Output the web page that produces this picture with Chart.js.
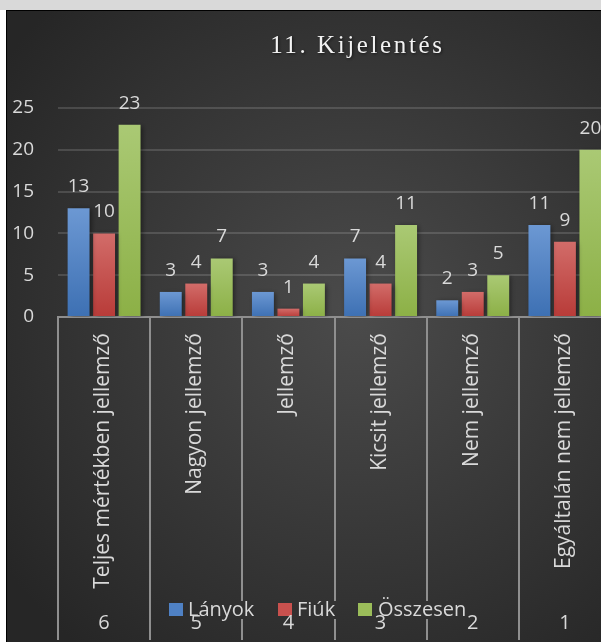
<!DOCTYPE html>
<html>
<head>
<meta charset="utf-8">
<title>11. Kijelentés</title>
<script src="https://cdn.jsdelivr.net/npm/chart.js@4.4.0/dist/chart.umd.min.js"></script>
<style>
  html, body { margin: 0; padding: 0; background: #fff; overflow: hidden; width: 601px; height: 642px; }
  .topbar { position: absolute; left: 0; top: 0; width: 601px; height: 10px; background: #d9d9d9; }
  .frame { position: absolute; left: 6px; top: 10px; width: 700px; height: 640px;
           border-left: 1px solid #000; border-top: 1px solid #000; overflow: hidden; background: #2a2a2a; }
  canvas { display: block; }
</style>
</head>
<body>
<div class="topbar"></div>
<div class="frame"><canvas id="kijelentesChart" width="700" height="631"></canvas></div>
<script>
// chart data
const categories = ['Teljes mértékben jellemző', 'Nagyon jellemző', 'Jellemző', 'Kicsit jellemző', 'Nem jellemző', 'Egyáltalán nem jellemző'];
const ranks = ['6', '5', '4', '3', '2', '1'];
const lanyok = [13, 3, 3, 7, 2, 11];
const fiuk = [10, 4, 1, 4, 3, 9];
const osszesen = [23, 7, 4, 11, 5, 20];
const yTicks = [0, 5, 10, 15, 20, 25];
const chartTitle = '11. Kijelentés';

const textColor = '#d9d9d9';
const sans = '"Open Sans", "Noto Sans", sans-serif';

// vertical gradient per bar, lighter at the top
function barFill(top, bottom) {
  return function (ctx) {
    const chart = ctx.chart;
    if (ctx.type !== 'data' || !chart.scales.y) return bottom;
    const y0 = chart.scales.y.getPixelForValue(0);
    const y1 = chart.scales.y.getPixelForValue(ctx.raw);
    if (!(y1 < y0)) return bottom;
    const g = chart.ctx.createLinearGradient(0, y1, 0, y0);
    g.addColorStop(0, top);
    g.addColorStop(1, bottom);
    return g;
  };
}

function bgGradient(ctx, w, h) {
  const g = ctx.createRadialGradient(w * 0.5, h * 0.48, 0, w * 0.5, h * 0.48, w * 0.62);
  g.addColorStop(0, '#4b4b4b');
  g.addColorStop(1, '#262626');
  return g;
}

const backgroundPlugin = {
  id: 'background',
  beforeDraw(chart) {
    const ctx = chart.ctx;
    ctx.save();
    ctx.fillStyle = bgGradient(ctx, chart.width, chart.height);
    ctx.fillRect(0, 0, chart.width, chart.height);
    ctx.restore();
  }
};

const shadowPlugin = {
  id: 'barShadow',
  beforeDatasetsDraw(chart) {
    const ctx = chart.ctx;
    ctx.save();
    ctx.shadowColor = 'rgba(0,0,0,0.45)';
    ctx.shadowBlur = 5;
    ctx.shadowOffsetX = 2;
    ctx.shadowOffsetY = 1;
  },
  afterDatasetsDraw(chart) {
    chart.ctx.restore();
  }
};

const valueLabels = {
  id: 'valueLabels',
  afterDatasetsDraw(chart) {
    const ctx = chart.ctx;
    ctx.save();
    ctx.font = '19px ' + sans;
    ctx.fillStyle = textColor;
    ctx.textAlign = 'center';
    ctx.textBaseline = 'alphabetic';
    chart.data.datasets.forEach((ds, i) => {
      chart.getDatasetMeta(i).data.forEach((bar, j) => {
        ctx.fillText(String(ds.data[j]), bar.x, bar.y - 16);
      });
    });
    ctx.restore();
  }
};

// category axis extras: separators, rotated labels, legend, rank numbers, title
const axisExtras = {
  id: 'axisExtras',
  afterDraw(chart) {
    const ctx = chart.ctx;
    const x = chart.scales.x;
    const axisY = chart.chartArea.bottom;
    const step = x.width / categories.length;

    ctx.save();
    ctx.strokeStyle = '#8f8f8f';
    ctx.lineWidth = 2;
    for (let i = 0; i <= categories.length; i++) {
      const px = Math.round(x.getPixelForValue(0) - step / 2 + i * step);
      ctx.beginPath();
      ctx.moveTo(px, axisY);
      ctx.lineTo(px, chart.height - 2);
      ctx.stroke();
    }

    ctx.fillStyle = textColor;
    ctx.font = '21px ' + sans;
    categories.forEach((label, i) => {
      ctx.save();
      ctx.translate(x.getPixelForValue(i) - 1, axisY + 16);
      ctx.rotate(-Math.PI / 2);
      ctx.textAlign = 'right';
      ctx.textBaseline = 'middle';
      ctx.fillText(label, 0, 0);
      ctx.restore();
    });

    // legend
    ctx.font = '20px ' + sans;
    const legendY = 605;
    ctx.fillStyle = bgGradient(ctx, chart.width, chart.height);
    ctx.fillRect(158, 590, 306, 18);
    const items = [[162, 181], [271, 290], [351, 371]];
    chart.data.datasets.forEach((ds, i) => {
      ctx.fillStyle = ds.legendColor;
      ctx.fillRect(items[i][0], 592, 14, 13);
      ctx.fillStyle = textColor;
      ctx.textAlign = 'left';
      ctx.textBaseline = 'alphabetic';
      ctx.fillText(ds.label, items[i][1], legendY);
    });

    ctx.textAlign = 'center';
    ctx.textBaseline = 'middle';
    ranks.forEach((r, i) => {
      ctx.fillText(r, x.getPixelForValue(i), 612);
    });

    // title
    ctx.font = '25px "Liberation Serif", "Times New Roman", serif';
    ctx.letterSpacing = '2.6px';
    const w = ctx.measureText(chartTitle).width;
    ctx.textAlign = 'left';
    ctx.textBaseline = 'alphabetic';
    ctx.shadowColor = 'rgba(0,0,0,0.6)';
    ctx.shadowBlur = 3;
    ctx.shadowOffsetX = 1;
    ctx.shadowOffsetY = 1;
    ctx.fillStyle = '#f2f2f2';
    ctx.fillText(chartTitle, 349 - w / 2 + 1.3, 42);
    ctx.restore();
  }
};

new Chart(document.getElementById('kijelentesChart'), {
  type: 'bar',
  data: {
    labels: categories,
    datasets: [
      { label: 'Lányok', data: lanyok, backgroundColor: barFill('#6c98d3', '#3d70b3'), legendColor: '#4f81c4' },
      { label: 'Fiúk', data: fiuk, backgroundColor: barFill('#d26c69', '#b83b38'), legendColor: '#c9514e' },
      { label: 'Összesen', data: osszesen, backgroundColor: barFill('#aac974', '#8cb046'), legendColor: '#9bbd5a' }
    ]
  },
  options: {
    responsive: false,
    animation: false,
    events: [],
    categoryPercentage: 0.83,
    barPercentage: 0.86,
    layout: { padding: { top: 97, right: 96, left: 0, bottom: 0 } },
    scales: {
      x: {
        grid: { display: false },
        ticks: { display: false },
        border: { display: true, color: '#8f8f8f', width: 2 },
        afterFit(scale) { scale.height = 325; }
      },
      y: {
        min: 0,
        max: 25,
        afterBuildTicks(scale) { scale.ticks = yTicks.map(v => ({ value: v })); },
        afterFit(scale) { scale.width = 51; },
        grid: { color: 'rgba(255,255,255,0.14)', lineWidth: 2, drawTicks: false },
        border: { display: false },
        ticks: { color: textColor, padding: 24, font: { size: 19, family: sans } }
      }
    },
    plugins: {
      legend: { display: false },
      title: { display: false },
      tooltip: { enabled: false }
    }
  },
  plugins: [backgroundPlugin, shadowPlugin, valueLabels, axisExtras]
});
</script>
</body>
</html>
